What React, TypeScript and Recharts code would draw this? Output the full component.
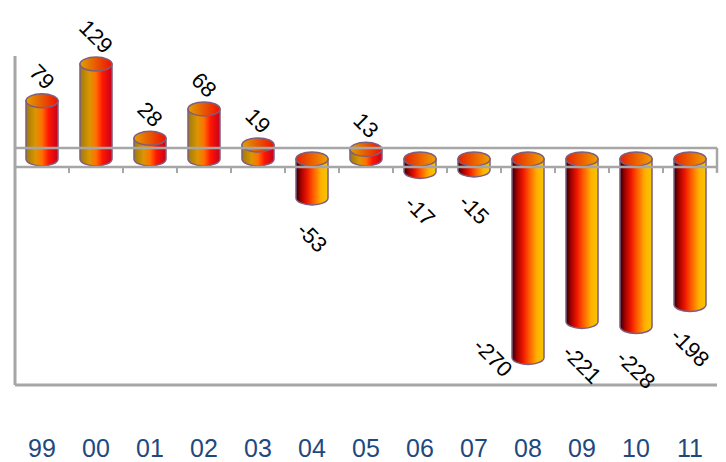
import React from "react";
import { Bar, BarChart, LabelList, ReferenceLine, XAxis, YAxis } from "recharts";

const years = ["99", "00", "01", "02", "03", "04", "05", "06", "07", "08", "09", "10", "11"];
const values = [79, 129, 28, 68, 19, -53, 13, -17, -15, -270, -221, -228, -198];

const data = years.map((year, i) => ({ year, value: values[i] }));

const FRAME = "#A6A6A6";
const RIM = "#7E5E7E";

const Cylinder = (props: any) => {
    const { x, y, width, height, payload } = props;
    const top = Math.min(y, y + height);
    const bottom = Math.max(y, y + height);
    const rx = width / 2;
    const ry = 7;
    const neg = payload.value < 0;
    return (
        <g>
            <path
                d={`M ${x} ${top} L ${x} ${bottom} A ${rx} ${ry} 0 0 0 ${x + width} ${bottom} L ${x + width} ${top} Z`}
                fill={neg ? "url(#negBody)" : "url(#posBody)"}
                stroke={RIM}
                strokeWidth={1.5}
            />
            <ellipse
                cx={x + rx}
                cy={top}
                rx={rx}
                ry={ry}
                fill={neg ? "url(#negTop)" : "url(#posTop)"}
                stroke={RIM}
                strokeWidth={1.5}
            />
        </g>
    );
};

const ValueLabel = (props: any) => {
    const { x, y, width, height, value } = props;
    const text = String(value);
    const top = Math.min(y, y + height);
    const bottom = Math.max(y, y + height);
    let cx = x + width / 2;
    let cy;
    if (value >= 0) {
        cy = top - 7 - (10 + 3.5 * text.length);
    } else {
        cy = bottom + 7 + (22 + 3.5 * text.length);
        if (cy > 395) {
            cx -= 35;
            cy = bottom;
        }
    }
    return (
        <text
            x={cx}
            y={cy}
            transform={`rotate(45 ${cx} ${cy})`}
            textAnchor="middle"
            dominantBaseline="central"
            fontSize={22}
            fontFamily="Liberation Sans, Arial, sans-serif"
            fill="#000"
        >
            {text}
        </text>
    );
};

const YearTick = (props: any) => {
    const { x, y, payload } = props;
    return (
        <text
            x={x}
            y={y}
            dy={72}
            textAnchor="middle"
            fontSize={25}
            fontFamily="Liberation Sans, Arial, sans-serif"
            fill="#1F497D"
        >
            {payload.value}
        </text>
    );
};

export default function App() {
    return (
        <div style={{ position: "absolute", left: 0, top: 0, background: "#fff" }}>
            <BarChart
                width={726}
                height={462}
                data={data}
                margin={{ top: 56, right: 9, left: 13, bottom: 0 }}
                barSize={32}
            >
                <defs>
                    <linearGradient id="posBody" x1="0" y1="0" x2="1" y2="0">
                        <stop offset="0%" stopColor="#9C7A10" />
                        <stop offset="30%" stopColor="#DC9600" />
                        <stop offset="50%" stopColor="#FF7000" />
                        <stop offset="70%" stopColor="#FF1800" />
                        <stop offset="100%" stopColor="#C8001E" />
                    </linearGradient>
                    <linearGradient id="posTop" x1="0" y1="0" x2="1" y2="0">
                        <stop offset="0%" stopColor="#E0A000" />
                        <stop offset="100%" stopColor="#F01000" />
                    </linearGradient>
                    <linearGradient id="negBody" x1="0" y1="0" x2="1" y2="0">
                        <stop offset="0%" stopColor="#2A0000" />
                        <stop offset="15%" stopColor="#A00000" />
                        <stop offset="35%" stopColor="#F01800" />
                        <stop offset="55%" stopColor="#FF6000" />
                        <stop offset="78%" stopColor="#FFB000" />
                        <stop offset="100%" stopColor="#F5C800" />
                    </linearGradient>
                    <linearGradient id="negTop" x1="0" y1="0" x2="1" y2="0">
                        <stop offset="0%" stopColor="#E82000" />
                        <stop offset="100%" stopColor="#F0A000" />
                    </linearGradient>
                </defs>
                <XAxis
                    dataKey="year"
                    height={77}
                    tickLine={false}
                    tickSize={0}
                    tickMargin={0}
                    axisLine={{ stroke: FRAME, strokeWidth: 3 }}
                    tick={<YearTick />}
                    interval={0}
                />
                <YAxis
                    type="number"
                    scale="linear"
                    domain={[-307.5, 140]}
                    width={2}
                    tick={false}
                    tickLine={false}
                    axisLine={{ stroke: FRAME, strokeWidth: 3 }}
                />
                <ReferenceLine y={15} stroke={FRAME} strokeWidth={2.5} />
                <ReferenceLine y={-11} stroke={FRAME} strokeWidth={2.5} />
                {years.map((yr) => (
                    <ReferenceLine
                        key={yr}
                        segment={[{ x: yr, y: -11 }, { x: yr, y: -19 }]}
                        position="start"
                        stroke={FRAME}
                        strokeWidth={2}
                    />
                ))}
                <ReferenceLine
                    segment={[{ x: years[years.length - 1], y: 15 }, { x: years[years.length - 1], y: -19 }]}
                    position="end"
                    stroke={FRAME}
                    strokeWidth={2.5}
                />
                <Bar dataKey="value" shape={<Cylinder />} isAnimationActive={false}>
                    <LabelList dataKey="value" content={<ValueLabel />} />
                </Bar>
            </BarChart>
        </div>
    );
}
